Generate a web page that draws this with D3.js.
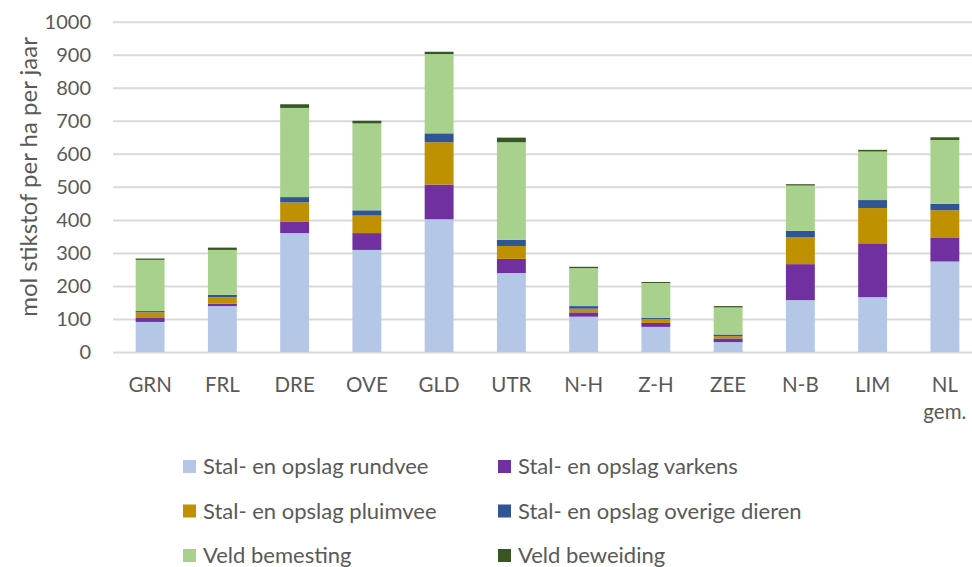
<!DOCTYPE html>
<html>
<head>
<meta charset="utf-8">
<script src="https://cdn.jsdelivr.net/npm/d3@7"></script>
<style>
  body { margin: 0; background: #fff; }
  svg text { font-family: Lato, "Open Sans", sans-serif; fill: #595959; }
</style>
</head>
<body>
<div id="chart"></div>
<script>
// provinces (last one is the national average)
var categories = ["GRN", "FRL", "DRE", "OVE", "GLD", "UTR", "N-H", "Z-H", "ZEE", "N-B", "LIM", "NL gem."];

var rundvee   = [91, 139, 360, 309, 402, 239, 107, 76, 30, 157, 166, 274];
var varkens   = [12, 7, 34, 51, 105, 43, 13, 12, 11, 109, 163, 73];
var pluimvee  = [17, 20, 59, 53, 128, 39, 11, 12, 7, 82, 107, 82];
var overige   = [4, 7, 16, 16, 27, 19, 8, 4, 5, 19, 24, 20];
var bemesting = [155, 136, 270, 263, 240, 295, 115, 105, 82, 137, 147, 193];
var beweiding = [4, 7, 11, 8, 7, 14, 4, 3, 4, 4, 5, 8];

var seriesNames = [
  "Stal- en opslag rundvee", "Stal- en opslag varkens",
  "Stal- en opslag pluimvee", "Stal- en opslag overige dieren",
  "Veld bemesting", "Veld beweiding"
];
var seriesColors = ["#b4c7e7", "#7030a0", "#bf9000", "#2f5597", "#a9d18e", "#375623"];
var yTicks = [0, 100, 200, 300, 400, 500, 600, 700, 800, 900, 1000];

var width = 972, height = 567;
var plot = {left: 113, right: 981, top: 21.7, bottom: 352};

var svg = d3.select("#chart").append("svg")
  .attr("width", width)
  .attr("height", height);

var seriesValues = [rundvee, varkens, pluimvee, overige, bemesting, beweiding];
var rows = categories.map(function(c, i) {
  var r = {cat: c};
  seriesNames.forEach(function(s, k) { r[s] = seriesValues[k][i]; });
  return r;
});

var x = d3.scaleBand()
  .domain(categories)
  .range([plot.left + 1, plot.right])
  .paddingInner(0.6)
  .paddingOuter(0.3);

var y = d3.scaleLinear()
  .domain([0, 1000])
  .range([plot.bottom, plot.top]);

// y axis with gridlines
var yAxis = svg.append("g")
  .attr("transform", "translate(" + plot.left + ",0)")
  .call(d3.axisLeft(y).tickValues(yTicks).tickFormat(d3.format("d"))
    .tickSize(-(width - plot.left)).tickPadding(22));
yAxis.select(".domain").remove();
yAxis.selectAll("line").attr("stroke", "#d9d9d9").attr("stroke-width", 2);
yAxis.selectAll("text")
  .style("font-size", "20px")
  .attr("fill", "#595959");

// stacked bars
var stack = d3.stack().keys(seriesNames);
var layers = stack(rows);

svg.append("g")
  .selectAll("g")
  .data(layers)
  .enter()
  .append("g")
  .attr("fill", function(d, i) { return seriesColors[i]; })
  .selectAll("rect")
  .data(function(d) { return d; })
  .enter()
  .append("rect")
  .attr("x", function(d) { return x(d.data.cat); })
  .attr("y", function(d) { return y(d[1]); })
  .attr("height", function(d) { return y(d[0]) - y(d[1]); })
  .attr("width", x.bandwidth());

// category labels
var xl = svg.append("g")
  .selectAll("text")
  .data(categories)
  .enter()
  .append("text")
  .attr("text-anchor", "middle")
  .style("font-size", "20.5px")
  .attr("y", 392);
xl.each(function(c) {
  var parts = c.split(" ");
  var t = d3.select(this);
  parts.forEach(function(p, j) {
    t.append("tspan")
      .attr("x", x(c) + x.bandwidth() / 2)
      .attr("dy", j == 0 ? 0 : 27)
      .text(p);
  });
});

// y title
svg.append("text")
  .attr("transform", "translate(37,177) rotate(-90)")
  .attr("text-anchor", "middle")
  .style("font-size", "24px")
  .text("mol stikstof per ha per jaar");

// legend
var legend = svg.append("g")
  .selectAll("g")
  .data(seriesNames)
  .enter()
  .append("g")
  .attr("transform", function(d, i) {
    var col = i % 2, row = Math.floor(i / 2);
    return "translate(" + (col == 0 ? 183 : 498) + "," + (460 + row * 44.5) + ")";
  });
legend.append("rect")
  .attr("width", 13)
  .attr("height", 13)
  .attr("fill", function(d, i) { return seriesColors[i]; });
legend.append("text")
  .attr("x", 20)
  .attr("y", 14)
  .style("font-size", "22px")
  .text(function(d) { return d; });
</script>
</body>
</html>
